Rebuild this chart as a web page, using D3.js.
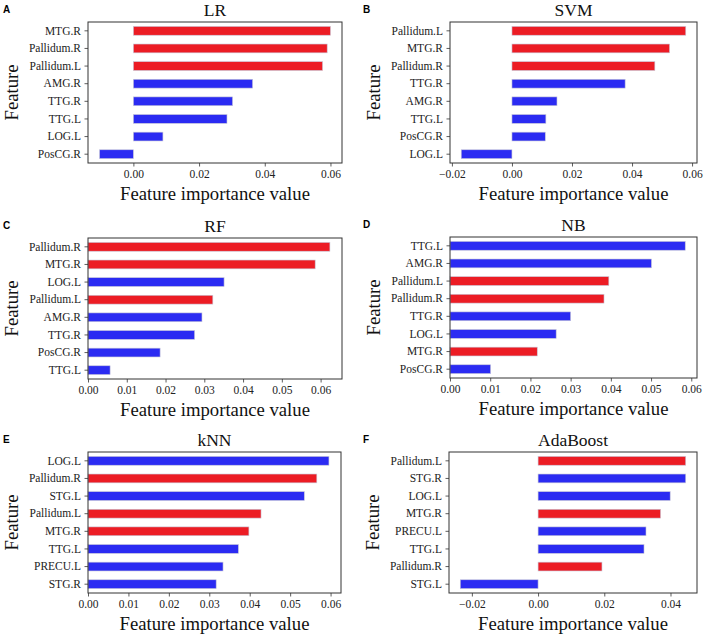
<!DOCTYPE html>
<html><head><meta charset="utf-8">
<script src="https://cdn.jsdelivr.net/npm/d3@7"></script>
<style>body{margin:0;background:#fff}</style>
</head><body>
<svg id="c" width="708" height="635"></svg>
<script>
// ---- data ----
const lrFeatures = ["MTG.R","Pallidum.R","Pallidum.L","AMG.R","TTG.R","TTG.L","LOG.L","PosCG.R"];
const lrValues   = [0.0600, 0.0590, 0.0576, 0.0363, 0.0302, 0.0285, 0.0090, -0.0103];
const svmFeatures = ["Pallidum.L","MTG.R","Pallidum.R","TTG.R","AMG.R","TTG.L","PosCG.R","LOG.L"];
const svmValues   = [0.0579, 0.0525, 0.0476, 0.0377, 0.0150, 0.0113, 0.0111, -0.0169];
const rfFeatures = ["Pallidum.R","MTG.R","LOG.L","Pallidum.L","AMG.R","TTG.R","PosCG.R","TTG.L"];
const rfValues   = [0.0624, 0.0586, 0.0351, 0.0322, 0.0294, 0.0275, 0.0186, 0.0057];
const nbFeatures = ["TTG.L","AMG.R","Pallidum.L","Pallidum.R","TTG.R","LOG.L","MTG.R","PosCG.R"];
const nbValues   = [0.0585, 0.0501, 0.0395, 0.0383, 0.0300, 0.0264, 0.0217, 0.0101];
const knnFeatures = ["LOG.L","Pallidum.R","STG.L","Pallidum.L","MTG.R","TTG.L","PRECU.L","STG.R"];
const knnValues   = [0.0596, 0.0566, 0.0535, 0.0428, 0.0398, 0.0372, 0.0334, 0.0317];
const adaFeatures = ["Pallidum.L","STG.R","LOG.L","MTG.R","PRECU.L","TTG.L","Pallidum.R","STG.L"];
const adaValues   = [0.0446, 0.0446, 0.0399, 0.0370, 0.0326, 0.0320, 0.0193, -0.0235];
const highlightedFeatures = ["Pallidum.L","Pallidum.R","MTG.R"];
const panelLetters = ["A","B","C","D","E","F"];
const modelNames = ["LR","SVM","RF","NB","kNN","AdaBoost"];
const ticksLR  = [0.00, 0.02, 0.04, 0.06];
const ticksSVM = [-0.02, 0.00, 0.02, 0.04, 0.06];
const ticksRF  = [0.00, 0.01, 0.02, 0.03, 0.04, 0.05, 0.06];
const ticksNB  = [0.00, 0.01, 0.02, 0.03, 0.04, 0.05, 0.06];
const ticksKNN = [0.00, 0.01, 0.02, 0.03, 0.04, 0.05, 0.06];
const ticksADA = [-0.02, 0.00, 0.02, 0.04];
const xLabel = "Feature importance value";
const yLabel = "Feature";

const panels = [
  {f: lrFeatures,  v: lrValues,  t: ticksLR},
  {f: svmFeatures, v: svmValues, t: ticksSVM},
  {f: rfFeatures,  v: rfValues,  t: ticksRF},
  {f: nbFeatures,  v: nbValues,  t: ticksNB},
  {f: knnFeatures, v: knnValues, t: ticksKNN},
  {f: adaFeatures, v: adaValues, t: ticksADA}
];
// frames: [left, right, top, bottom]
const frames = [
  [88, 342, 22, 163], [450, 697, 22, 163],
  [88, 342, 238, 379], [450, 697, 237, 378],
  [88, 341, 452, 593], [449, 697, 452, 593]
];
const RED = "#ec1c24", BLUE = "#2b2bf2";
const serif = "'Liberation Serif','Times New Roman',serif";
const svg = d3.select("#c");

panels.forEach((p, i) => {
  const [L, R, T, B] = frames[i];
  const mn = d3.min(p.v), mx = d3.max(p.v);
  let dom;
  if (mn >= 0) dom = [0, mx * 1.05];
  else { const r = mx - mn; dom = [mn - 0.05 * r, mx + 0.05 * r]; }
  const x = d3.scaleLinear().domain(dom).range([L, R]);
  const y = d3.scaleBand().domain(p.f).range([T, B]).paddingInner(0.5).paddingOuter(0.25);
  const g = svg.append("g");

  g.selectAll("rect.bar").data(p.f).enter().append("rect")
    .attr("class", "bar")
    .attr("x", (d, j) => x(Math.min(0, p.v[j])))
    .attr("width", (d, j) => Math.abs(x(p.v[j]) - x(0)))
    .attr("y", d => y(d))
    .attr("height", y.bandwidth())
    .attr("fill", d => highlightedFeatures.includes(d) ? RED : BLUE)
    .attr("stroke", "#c8c8d8").attr("stroke-width", 0.6);

  const xa = g.append("g").attr("transform", `translate(0,${B})`)
    .call(d3.axisBottom(x).tickValues(p.t).tickFormat(d3.format(".2f")).tickSize(3.5).tickPadding(3.5));
  const ya = g.append("g").attr("transform", `translate(${L},0)`)
    .call(d3.axisLeft(y).tickSize(3.5).tickPadding(3.5));
  [xa, ya].forEach(a => {
    a.select(".domain").remove();
    a.selectAll("line").attr("stroke", "#333").attr("stroke-width", 0.8);
    a.selectAll("text").attr("font-family", serif).attr("font-size", 11.5).attr("fill", "#222");
  });

  g.append("rect").attr("x", L).attr("y", T).attr("width", R - L).attr("height", B - T)
    .attr("fill", "none").attr("stroke", "#333").attr("stroke-width", 1);

  g.append("text").attr("x", (L + R) / 2).attr("y", T - 6).attr("text-anchor", "middle")
    .attr("font-family", serif).attr("font-size", 17.5).attr("fill", "#111").text(modelNames[i]);
  g.append("text").attr("x", (L + R) / 2).attr("y", B + 37).attr("text-anchor", "middle")
    .attr("font-family", serif).attr("font-size", 18.7).attr("fill", "#111").text(xLabel);
  g.append("text").attr("transform", `translate(${L - 70},${(T + B) / 2}) rotate(-90)`)
    .attr("text-anchor", "middle")
    .attr("font-family", serif).attr("font-size", 18.7).attr("fill", "#111").text(yLabel);
  g.append("text").attr("x", i % 2 === 0 ? 3 : 363).attr("y", T - 9)
    .attr("font-family", "'Liberation Sans',Arial,sans-serif").attr("font-weight", "bold")
    .attr("font-size", 10).attr("fill", "#000").text(panelLetters[i]);
});
</script>
</body></html>
